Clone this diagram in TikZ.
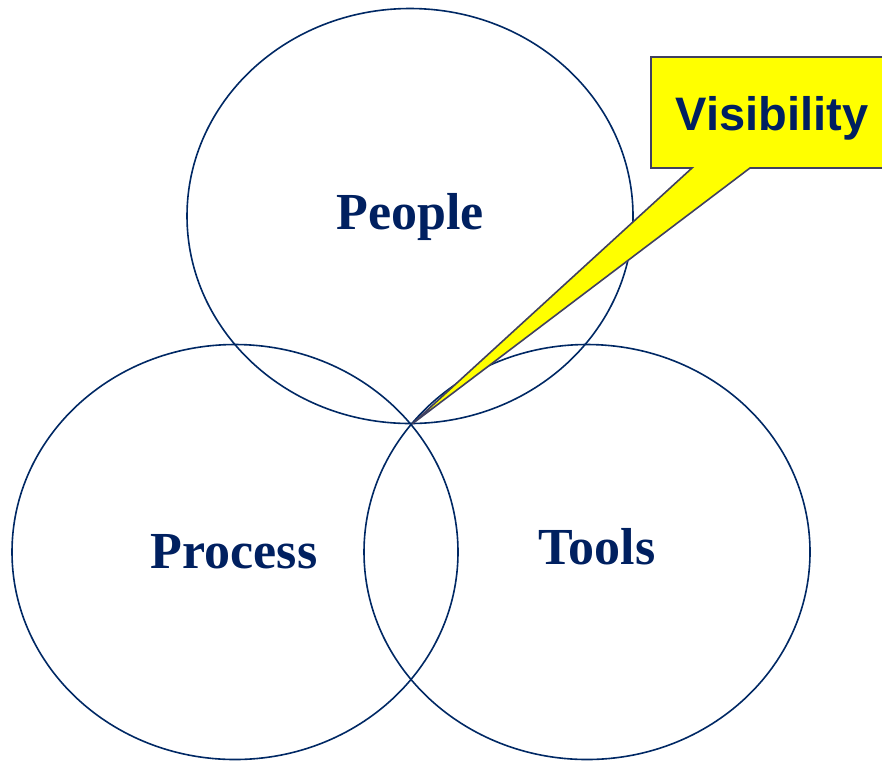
\documentclass[tikz,border=0pt]{standalone}
\usepackage{fontspec}
\setmainfont{Liberation Serif}
\newfontfamily\calloutfont{Liberation Sans}
\definecolor{navy}{RGB}{0,40,100}
\definecolor{textnavy}{RGB}{0,32,96}
\definecolor{calloutedge}{RGB}{64,64,96}
\definecolor{calloutfill}{RGB}{255,255,0}
\tikzset{
    ring/.style={draw=navy, line width=1.6pt},
    setlabel/.style={text=textnavy, font=\fontsize{52}{60}\selectfont\bfseries},
    calloutbox/.style={fill=calloutfill, draw=calloutedge, line width=1.6pt, line join=miter}
}
\begin{document}
\begin{tikzpicture}[x=1pt, y=-1pt]
        \useasboundingbox (0,0) rectangle (882,761);
        \clip (0,0) rectangle (882,761);
        % Kreise
        \foreach \cx/\cy in {410/216, 235/552, 587/552} {
            \draw[ring] (\cx, \cy) ellipse [x radius=223, y radius=207.5];
        }
        \node[setlabel] (people) at (410, 217) {People};
        \node[setlabel] (process) at (234, 552) {Process};
        \node[setlabel] (tools) at (597, 547) {Tools};

        % Sprechblase
        \coordinate (tip) at (412, 424);
        \draw[calloutbox] (651, 57) -- (900, 57) -- (900, 168) -- (750, 168)
            -- (tip) -- (692, 168) -- (651, 168) -- cycle;
        \node[text=textnavy, font=\calloutfont\fontsize{47}{54}\selectfont\bfseries] (visibility) at (772, 118) {Visibility};
    \end{tikzpicture}
\end{document}
